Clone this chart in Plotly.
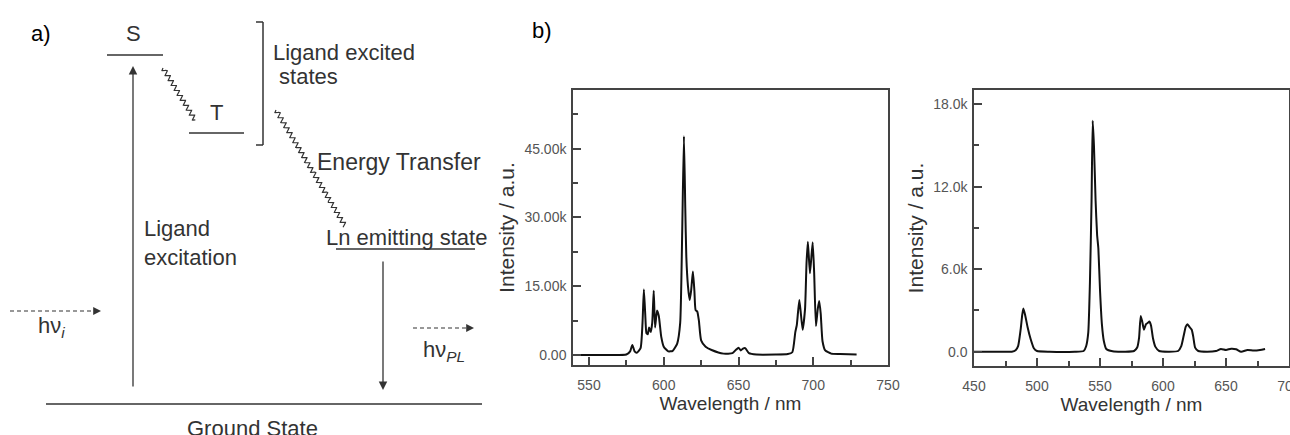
import numpy as np
import plotly.graph_objects as go

# ---------------- data ----------------
# Panel b, left: Eu(III) emission spectrum
wl_eu = [540, 560, 575, 577.5, 579, 580.5, 582, 584.5, 585.8, 586.7, 587.6, 588.4, 589.3, 590.2, 591.3,
         592.3, 593.3, 594.2, 595.5, 596.7, 598.3, 600, 603, 606, 609, 611, 612.3, 613.5, 614.4, 615.1,
         616.2, 617.3, 618.3, 619.5, 620.5, 621.3, 622.4, 623.5, 625, 628, 632, 640, 646, 648.5, 650,
         651.5, 653, 654.5, 657, 662, 675, 683, 686, 688, 689, 690.7, 692.9, 694.5, 695.5, 696.4,
         697.8, 699.6, 700.6, 701.8, 703, 704, 705, 706.2, 708, 712, 718, 729]
int_eu_k = [0, 0, 0.1, 0.8, 2.2, 0.8, 0.5, 1.5, 7, 14.3, 9, 4.8, 4.5, 6, 5,
            7, 14, 6, 9.7, 8.5, 4, 1.8, 0.8, 0.9, 2.5, 7, 26, 47.7, 32, 21.4,
            15, 12, 14, 18.2, 14, 9.8, 9.5, 7.5, 3.2, 1.8, 1.1, 0.3, 0.4, 1.2, 1.6,
            1.0, 1.4, 1.5, 0.4, 0.1, 0.1, 0.2, 0.6, 5, 6.5, 12, 5.5, 10, 20, 24.7,
            17.8, 24.6, 18, 6.3, 10, 11.8, 9, 3, 1, 0.3, 0.2, 0.1]

# Panel b, right: Tb(III) emission spectrum
wl_tb = [450, 470, 480, 483, 485, 487, 488.3, 489.2, 490.5, 492.5, 495, 497.5, 500, 510, 530,
         537, 539, 540.7, 542, 543.3, 544.2, 545.2, 546.5, 547.7, 548.7, 550, 551.5, 553, 555, 560,
         570, 577, 579.5, 581, 582.3, 583.5, 584.9, 586.5, 588, 589.2, 590.5, 592, 594, 597, 605,
         612, 614.5, 616.5, 618, 619.3, 621, 622.8, 624, 625.5, 628, 635, 642, 646, 650, 654,
         658, 662, 667, 672, 677, 681]
int_tb_k = [0, 0, 0, 0.1, 0.4, 1.6, 2.7, 3.15, 2.7, 1.8, 0.9, 0.25, 0.05, 0, 0,
            0.05, 0.4, 1.4, 5, 11, 16.8, 15, 11, 8.5, 7.5, 4.5, 2, 0.8, 0.2, 0.03,
            0, 0.05, 0.3, 1.0, 2.6, 2.2, 1.6, 2.0, 2.1, 2.2, 1.9, 1.0, 0.35, 0.05, 0,
            0.05, 0.4, 1.2, 1.8, 2.0, 1.8, 1.6, 1.1, 0.3, 0.05, 0.0, 0.05, 0.2, 0.12, 0.22,
            0.18, 0.0, 0.12, 0.08, 0.12, 0.2]

eu_xticks = [550, 600, 650, 700, 750]
eu_yticks = [0, 15000, 30000, 45000]
eu_ylabels = ["0.00", "15.00k", "30.00k", "45.00k"]
tb_xticks = [450, 500, 550, 600, 650, 700]
tb_xlabels = ["450", "500", "550", "600", "650", "700"]
tb_yticks = [0, 6000, 12000, 18000]
tb_ylabels = ["0.0", "6.0k", "12.0k", "18.0k"]

# Panel a: energy-level diagram (schematic, diagram units)
level_names = ["S", "T", "Ln emitting state", "Ground State"]
level_x0 = [107, 189, 336, 46]
level_x1 = [163, 244, 475, 482]
level_y = [55, 133, 249, 404]

# ---------------- figure ----------------
W, H = 1290, 435
fig = go.Figure()

DC = "#333333"
FONT = "Liberation Sans, Arial, sans-serif"

def wavy(p0, p1, period, amp):
    p0 = np.array(p0, float); p1 = np.array(p1, float)
    d = p1 - p0
    L = np.hypot(*d)
    u = d / L
    n = np.array([-u[1], u[0]])
    s = np.linspace(0, L, int(L * 6))
    pts = p0[None, :] + s[:, None] * u[None, :] + (amp * np.sin(2 * np.pi * s / period))[:, None] * n[None, :]
    return pts[:, 0], pts[:, 1]

shapes = []
for x0, x1, y in zip(level_x0, level_x1, level_y):
    shapes.append(dict(type="line", xref="x", yref="y", x0=x0, x1=x1, y0=y, y1=y,
                       line=dict(color=DC, width=1.5)))
for seg in [(263, 22, 263, 145), (256, 22, 263, 22), (256, 145, 263, 145)]:
    shapes.append(dict(type="line", xref="x", yref="y", x0=seg[0], y0=seg[1], x1=seg[2], y1=seg[3],
                       line=dict(color=DC, width=1.5)))

for p0, p1 in [((163, 68), (195, 120)), ((276, 110), (345, 226))]:
    wx, wy = wavy(p0, p1, 5.8, 2.3)
    fig.add_trace(go.Scatter(x=wx, y=wy, mode="lines", line=dict(color=DC, width=1.2),
                             xaxis="x", yaxis="y", hoverinfo="skip", showlegend=False))

for (x0, x1, y) in [(10, 94, 311), (413, 466, 328)]:
    fig.add_trace(go.Scatter(x=[x0, x1], y=[y, y], mode="lines",
                             line=dict(color=DC, width=1.2, dash="4px,3px"),
                             xaxis="x", yaxis="y", hoverinfo="skip", showlegend=False))

annotations = []
for (x, y, ax, ay) in [(133, 66, 133, 388), (383, 390, 383, 260)]:
    annotations.append(dict(x=x, y=y, ax=ax, ay=ay, xref="x", yref="y", axref="x", ayref="y",
                            showarrow=True, arrowhead=2, arrowsize=1.3, arrowwidth=1.3,
                            arrowcolor=DC, text=""))
for (x, y) in [(101, 311), (474, 328)]:
    annotations.append(dict(x=x, y=y, ax=x - 8, ay=y, xref="x", yref="y", axref="x", ayref="y",
                            showarrow=True, arrowhead=2, arrowsize=1.3, arrowwidth=1.2,
                            arrowcolor=DC, text=""))

def txt(t, x, y, size=22, xanchor="left", color=DC, align="left"):
    annotations.append(dict(text=t, x=x, y=y, xref="x", yref="y", showarrow=False,
                            xanchor=xanchor, yanchor="middle", align=align,
                            font=dict(family=FONT, size=size, color=color)))

txt("a)", 41, 33, size=22, xanchor="center", color="#000")
txt("S", 133, 33, xanchor="center")
txt("T", 216, 112, xanchor="center")
txt("Ligand excited", 271, 52)
txt(" states", 271, 76)
txt("Energy Transfer", 315, 162, size=23)
txt("Ln emitting state", 324, 237)
txt("Ligand<br>excitation", 142, 243)
txt("hν<sub><i>i</i></sub>", 36, 327)
txt("hν<sub><i>PL</i></sub>", 421, 351)
txt("Ground State", 252, 428, xanchor="center")

annotations.append(dict(text="b)", x=542 / W, y=1 - 30 / H, xref="paper", yref="paper",
                        showarrow=False, xanchor="center", yanchor="middle",
                        font=dict(family=FONT, size=22, color="#000")))

fig.add_trace(go.Scatter(x=wl_eu, y=[v * 1000 for v in int_eu_k], mode="lines",
                         line=dict(color="#111", width=2, shape="spline", smoothing=0.5),
                         xaxis="x2", yaxis="y2", showlegend=False))
fig.add_trace(go.Scatter(x=wl_tb, y=[v * 1000 for v in int_tb_k], mode="lines",
                         line=dict(color="#111", width=2, shape="spline", smoothing=0.5),
                         xaxis="x3", yaxis="y3", showlegend=False))

AX = "#444444"
TICKF = dict(family=FONT, size=14, color="#555")
XTITF = dict(family=FONT, size=19, color="#333")
YTITF = dict(family=FONT, size=21, color="#333")

def spec_axes(xt, xl, yt, yl):
    xa = dict(tickvals=xt, ticktext=xl, ticks="inside", ticklen=8, tickwidth=1.5, tickcolor=AX,
              showline=True, linecolor=AX, linewidth=1.5, mirror=True, showgrid=False, zeroline=False,
              tickfont=TICKF, title=dict(text="Wavelength / nm", font=XTITF, standoff=3),
              ticklabelstandoff=6, automargin=False, ticklabeloverflow="allow")
    ya = dict(tickvals=yt, ticktext=yl, ticks="inside", ticklen=8, tickwidth=1.5, tickcolor=AX,
              showline=True, linecolor=AX, linewidth=1.5, mirror=True, showgrid=False, zeroline=False,
              tickfont=TICKF, title=dict(text="Intensity / a.u.", font=YTITF, standoff=4),
              ticklabelstandoff=2, automargin=False)
    return xa, ya

xa2, ya2 = spec_axes(eu_xticks, [str(v) for v in eu_xticks], eu_yticks, eu_ylabels)
xa2.update(domain=[573 / W, 888 / W], range=[539.3, 750], anchor="y2",
           minor=dict(tickvals=[575, 625, 675, 725], ticks="inside", ticklen=5, tickcolor=AX, tickwidth=1.5))
ya2.update(domain=[1 - 365 / H, 1 - 90 / H], range=[-2180, 57780], anchor="x2",
           minor=dict(tickvals=[7500, 22500, 37500, 52500], ticks="inside", ticklen=5, tickcolor=AX, tickwidth=1.5))

xa3, ya3 = spec_axes(tb_xticks, tb_xlabels, tb_yticks, tb_ylabels)
xa3.update(domain=[974 / W, 1289 / W], range=[450, 700], anchor="y3",
           minor=dict(tickvals=[475, 525, 575, 625, 675], ticks="inside", ticklen=5, tickcolor=AX, tickwidth=1.5))
ya3.update(domain=[1 - 366 / H, 1 - 90 / H], range=[-1040, 19030], anchor="x3",
           minor=dict(tickvals=[3000, 9000, 15000], ticks="inside", ticklen=5, tickcolor=AX, tickwidth=1.5))

fig.update_layout(
    width=W, height=H,
    margin=dict(l=0, r=0, t=0, b=0, autoexpand=False),
    paper_bgcolor="white", plot_bgcolor="white",
    showlegend=False,
    xaxis=dict(domain=[0, 500 / W], range=[0, 500], visible=False, fixedrange=True),
    yaxis=dict(domain=[0, 1], range=[435, 0], visible=False, fixedrange=True),
    xaxis2=xa2, yaxis2=ya2, xaxis3=xa3, yaxis3=ya3,
    shapes=shapes, annotations=annotations,
)

fig.write_html("out.html", config={"displayModeBar": False},
               post_script="document.body.style.margin='0';document.body.style.overflow='hidden';")
